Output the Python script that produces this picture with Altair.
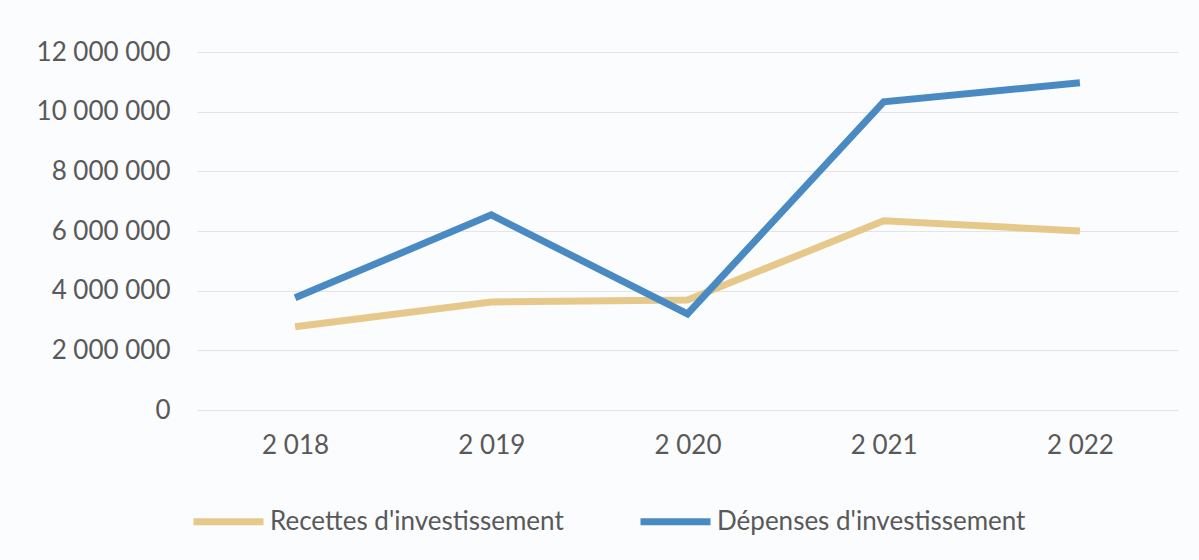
import altair as alt
import pandas as pd

years = ["2 018", "2 019", "2 020", "2 021", "2 022"]
recettes = [2790000, 3620000, 3690000, 6340000, 6000000]
depenses = [3760000, 6540000, 3220000, 10330000, 10970000]
series_names = ["Recettes d'investissement", "Dépenses d'investissement"]
series_colors = ["#e6c98a", "#4a8ac2"]
y_ticks = [0, 2000000, 4000000, 6000000, 8000000, 10000000, 12000000]

rows = []
for i, y in enumerate(years):
    rows.append({"year": y, "series": series_names[0], "value": recettes[i], "order": 0})
    rows.append({"year": y, "series": series_names[1], "value": depenses[i], "order": 1})
df = pd.DataFrame(rows)

FONT = "Lato"
GRAY = "#595959"

chart = alt.Chart(df).mark_line(strokeWidth=7).encode(
    x=alt.X("year:N", sort=years, title=None,
            scale=alt.Scale(type="point", padding=0.5),
            axis=alt.Axis(labelAngle=0, domain=False, ticks=False, grid=False,
                          labelPadding=22, labelFontSize=26, labelColor=GRAY, labelFont=FONT)),
    y=alt.Y("value:Q", title=None,
            scale=alt.Scale(domain=[0, 12000000]),
            axis=alt.Axis(values=y_ticks, format=",d", domain=False, ticks=False,
                          labelPadding=27, labelFontSize=26, labelColor=GRAY, labelFont=FONT,
                          gridColor="#e4e4e4", gridWidth=1.2)),
    color=alt.Color("series:N", sort=series_names,
                    scale=alt.Scale(domain=series_names, range=series_colors),
                    legend=alt.Legend(title=None, orient="none", direction="horizontal",
                                      legendX=-7, legendY=431,
                                      symbolType="stroke", symbolSize=4900,
                                      symbolStrokeWidth=7, labelOffset=3,
                                      columnPadding=62, labelFontSize=26,
                                      labelColor=GRAY, labelFont=FONT,
                                      labelLimit=400)),
    order=alt.Order("order:Q"),
    detail="series:N",
).properties(
    width=981, height=358,
    autosize=alt.AutoSizeParams(type="none"),
    padding={"left": 197, "top": 52, "right": 21, "bottom": 150},
    background="#fbfcfe",
).configure(
    locale={"number": {"decimal": ",", "thousands": " ", "grouping": [3], "currency": ["", " €"]}},
).configure_view(stroke=None)

chart.save("out.html", embed_options={"renderer": "svg", "actions": False})
